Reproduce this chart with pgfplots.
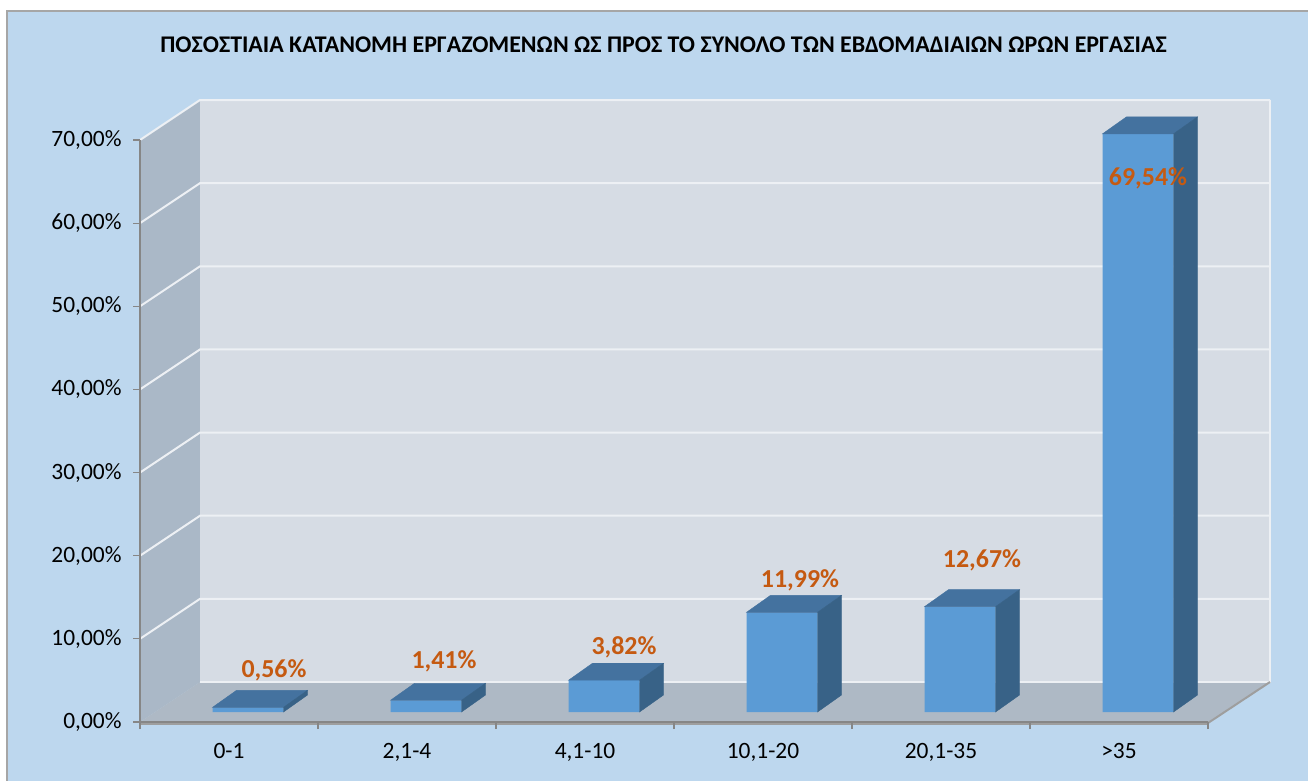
\documentclass[border=0pt]{standalone}
\usepackage{pgfplots}
\pgfplotsset{compat=1.18}
\usepackage{pgfplotstable}
\usepackage{fontspec}
\setmainfont{Carlito}
\definecolor{panel}{HTML}{BDD7EE}
\definecolor{panelborder}{HTML}{A6A6A6}
\definecolor{backwall}{HTML}{D6DCE4}
\definecolor{sidewall}{HTML}{AAB8C7}
\definecolor{floorc}{HTML}{AEB9C5}
\definecolor{barfront}{HTML}{5B9BD5}
\definecolor{bartop}{HTML}{44729F}
\definecolor{barside}{HTML}{386287}
\definecolor{labc}{HTML}{C55A11}
\definecolor{gridc}{HTML}{EDF0F4}
\definecolor{axisc}{HTML}{868686}
\pgfdeclareplotmark{nothing}{}

\pgfplotstableread{
x v lx ly
0 0.56 26 37
1 1.41 18 39
2 3.82 20 33
3 11.99 18 32
4 12.67 22 46
5 69.54 10 -44
}\data

\begin{document}
\begin{tikzpicture}
\begin{scope}[x=1bp,y=-1bp,shift={(-140bp,722bp)}]
  \useasboundingbox (0,0) rectangle (1308,780);
  \fill[white] (0,0) rectangle (1308,780);
  \filldraw[fill=panel, draw=panelborder, line width=1.5bp] (7,11) rectangle (1320,790);
  % side wall
  \fill[sidewall] (140,722) -- (140,140) -- (200,100) -- (200,682) -- cycle;
  % back wall
  \fill[backwall] (200,100) rectangle (1270,682);
  % floor
  \fill[floorc] (140,722) -- (1208,722) -- (1270,682) -- (200,682) -- cycle;
  % grid lines on walls
  \foreach \k in {1,...,7} {
    \draw[gridc, line width=2bp] (140,{722-83.14*\k}) -- (200,{682-83.14*\k}) -- (1270,{682-83.14*\k});
  }
  \draw[gridc, line width=1.5bp] (200,682) -- (1270,682) -- (1270,100);
  % floor edges
  \draw[axisc!80, line width=2bp] (1208,723) -- (1270,682);
  \draw[axisc!80, line width=3bp] (140,723.5) -- (1208,723.5);
  % title
  \node[font=\fontsize{24}{28}\selectfont\bfseries] at (663.5,45) {ΠΟΣΟΣΤΙΑΙΑ ΚΑΤΑΝΟΜΗ ΕΡΓΑΖΟΜΕΝΩΝ ΩΣ ΠΡΟΣ ΤΟ ΣΥΝΟΛΟ ΤΩΝ ΕΒΔΟΜΑΔΙΑΙΩΝ ΩΡΩΝ ΕΡΓΑΣΙΑΣ};
\end{scope}

% front plane: axes, ticks, labels
\begin{axis}[
  at={(0,0)}, anchor=south west,
  scale only axis, width=1068bp, height=582bp,
  xmin=-0.5, xmax=5.5, ymin=0, ymax=70,
  axis x line*=bottom, axis y line*=left,
  axis line style={-, draw=axisc, line width=1.5bp},
  tick align=outside, major tick length=7bp,
  tick style={draw=axisc, line width=1.2bp},
  xtick={-0.5,0.5,1.5,2.5,3.5,4.5,5.5},
  x tick label as interval,
  xticklabels={0-1,{2,1-4},{4,1-10},{10,1-20},{20,1-35},>35},
  ytick={0,10,20,30,40,50,60,70},
  yticklabel={\pgfmathprintnumber[fixed,fixed zerofill,precision=2,use comma,assume math mode=true]{\tick}\%},
  tick label style={font=\fontsize{23.5}{28}\selectfont, text=black},
  xticklabel style={yshift=-11bp},
  yticklabel style={xshift=-8bp},
  clip=false,
]
\addplot[draw=none, mark=none] coordinates {(0,0)};
\end{axis}

% bar plane
\begin{axis}[
  at={(19bp,10bp)}, anchor=south west,
  scale only axis, width=1068bp, height=582bp,
  xmin=-0.5, xmax=5.5, ymin=0, ymax=70,
  hide axis, clip=false,
]
\addplot[scatter, only marks, mark=nothing,
  visualization depends on={\thisrow{v} \as \val},
  scatter/@pre marker code/.append code={%
    \fill[bartop] (-35.5bp,0bp) -- (35.5bp,0bp) -- (59.5bp,17bp) -- (-11.5bp,17bp) -- cycle;
    \fill[barside] (35.5bp,0bp) -- (59.5bp,17bp) -- (59.5bp,{17bp-\val*8.314bp}) -- (35.5bp,{-\val*8.314bp}) -- cycle;
  },
] table[x=x,y=v] {\data};
\addplot[ybar, bar width=71bp, fill=barfront, draw=none,
  point meta=explicit,
  visualization depends on={\thisrow{lx} \as \labx},
  visualization depends on={\thisrow{ly} \as \laby},
  nodes near coords={\pgfmathprintnumber[fixed,fixed zerofill,precision=2,use comma,assume math mode=true]{\pgfplotspointmeta}\%},
  every node near coord/.append style={anchor=center, xshift=\labx bp, yshift=\laby bp, font=\fontsize{26}{30}\selectfont\bfseries, text=labc},
] table[x=x,y=v,meta=v] {\data};
\end{axis}
\end{tikzpicture}
\end{document}
